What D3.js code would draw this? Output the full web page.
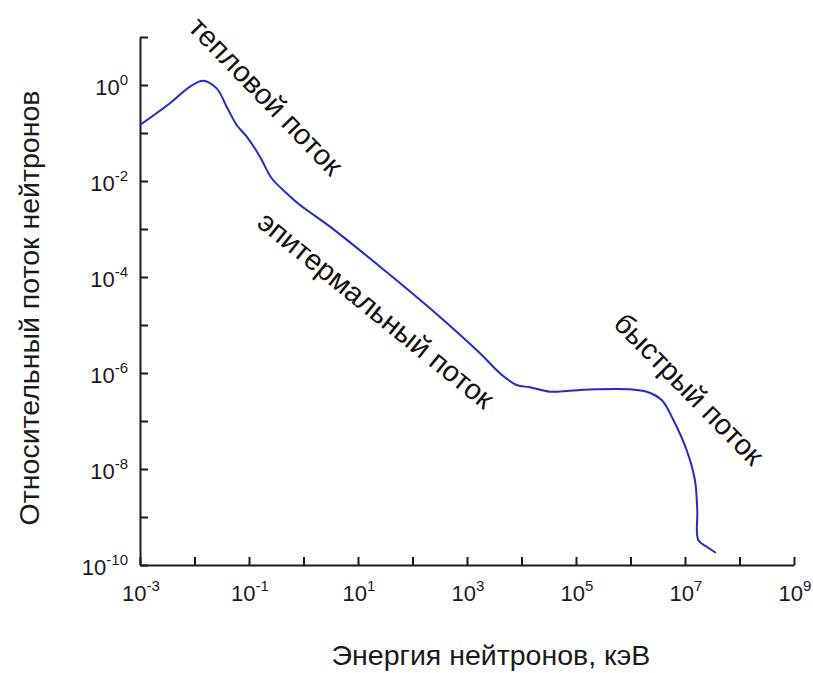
<!DOCTYPE html>
<html><head><meta charset="utf-8">
<script src="https://cdn.jsdelivr.net/npm/d3@7"></script>
<style>
html,body{margin:0;padding:0;background:#fff;}
svg{display:block;font-family:"Liberation Sans",Arial,sans-serif;}
</style></head>
<body>
<svg id="chart" width="813" height="673"></svg>
<script>
// Data
const energy = [0.001, 0.00355, 0.00826, 0.0143, 0.0255, 0.0389, 0.0594, 0.0908, 0.159, 0.261, 0.492, 0.863, 3.06, 25.4, 209, 1734, 4036, 8166, 14320, 33340, 77620, 239900, 977200, 1.98e6, 3.73e6, 6.11e6, 1.07e7, 1.52e7, 1.68e7, 1.75e7, 2.5e7, 3.71e7];
const flux = [0.147, 0.416, 0.923, 1.23, 0.851, 0.353, 0.147, 0.0838, 0.0321, 0.0114, 0.00555, 0.00316, 0.00112, 1.64e-4, 2.23e-5, 2.57e-6, 9.86e-7, 5.62e-7, 5.04e-7, 4.07e-7, 4.28e-7, 4.57e-7, 4.57e-7, 4.07e-7, 2.74e-7, 1.05e-7, 2.49e-8, 5.9e-9, 1.4e-9, 3.32e-10, 2.4e-10, 1.8e-10];
const xTickExp = [-3, -2, -1, 0, 1, 2, 3, 4, 5, 6, 7, 8, 9];
const xLabelExp = [-3, -1, 1, 3, 5, 7, 9];
const yTickExp = [-10, -9, -8, -7, -6, -5, -4, -3, -2, -1, 0, 1];
const yLabelExp = [-10, -8, -6, -4, -2, 0];
const xTitle = "Энергия нейтронов, кэВ";
const yTitle = "Относительный поток нейтронов";
const annotations = [
  {text: "тепловой поток", x: 266, y: 96, angle: 46},
  {text: "эпитермальный поток", x: 376, y: 310, angle: 39},
  {text: "быстрый поток", x: 689, y: 389, angle: 45.5}
];

const svg = d3.select("#chart");
const x = d3.scaleLog().domain([1e-3, 1e9]).range([140, 794]);
const y = d3.scaleLog().domain([1e-10, 1e1]).range([565, 37]);

const xAxis = d3.axisBottom(x).tickValues(xTickExp.map(e => Math.pow(10, e)))
  .tickSizeInner(-8).tickSizeOuter(0).tickFormat("");
const yAxis = d3.axisLeft(y).tickValues(yTickExp.map(e => Math.pow(10, e)))
  .tickSizeInner(-8).tickSizeOuter(0).tickFormat("");

const gx = svg.append("g").attr("transform", "translate(0,565)").call(xAxis);
const gy = svg.append("g").attr("transform", "translate(140,0)").call(yAxis);
[gx, gy].forEach(g => {
  g.selectAll("path.domain").attr("stroke", "#1a1a1a").attr("stroke-width", 2);
  g.selectAll(".tick line").attr("stroke", "#1a1a1a").attr("stroke-width", 2);
});

// x tick labels
xLabelExp.forEach(e => {
  const t = svg.append("text").attr("x", x(Math.pow(10, e)) + 1).attr("y", 601)
    .attr("text-anchor", "middle").attr("fill", "#1a1a1a").attr("font-size", 22);
  t.append("tspan").text("10");
  t.append("tspan").attr("font-size", 15).attr("dy", -10).text(e < 0 ? "-" + (-e) : String(e));
});
// y tick labels
yLabelExp.forEach(e => {
  const t = svg.append("text").attr("x", 128).attr("y", y(Math.pow(10, e)) + 10)
    .attr("text-anchor", "end").attr("fill", "#1a1a1a").attr("font-size", 22);
  t.append("tspan").text("10");
  t.append("tspan").attr("font-size", 15).attr("dy", -10).text(e < 0 ? "-" + (-e) : String(e));
});

// axis titles
svg.append("text").attr("x", 491).attr("y", 665).attr("text-anchor", "middle")
  .attr("font-size", 28.5).attr("fill", "#1a1a1a").text(xTitle);
svg.append("text").attr("transform", "translate(39,308) rotate(-90)").attr("text-anchor", "middle")
  .attr("font-size", 28.5).attr("fill", "#1a1a1a").text(yTitle);

// curve
const line = d3.line().x(d => x(d[0])).y(d => y(d[1])).curve(d3.curveCatmullRom.alpha(0.5));
svg.append("path").datum(energy.map((e, i) => [e, flux[i]]))
  .attr("d", line).attr("fill", "none").attr("stroke", "#2626dc").attr("stroke-width", 2);

// annotations
annotations.forEach(a => {
  svg.append("text").attr("transform", `translate(${a.x},${a.y}) rotate(${a.angle})`)
    .attr("text-anchor", "middle").attr("dominant-baseline", "central")
    .attr("font-size", 29).attr("fill", "#111").text(a.text);
});
</script>
</body></html>
